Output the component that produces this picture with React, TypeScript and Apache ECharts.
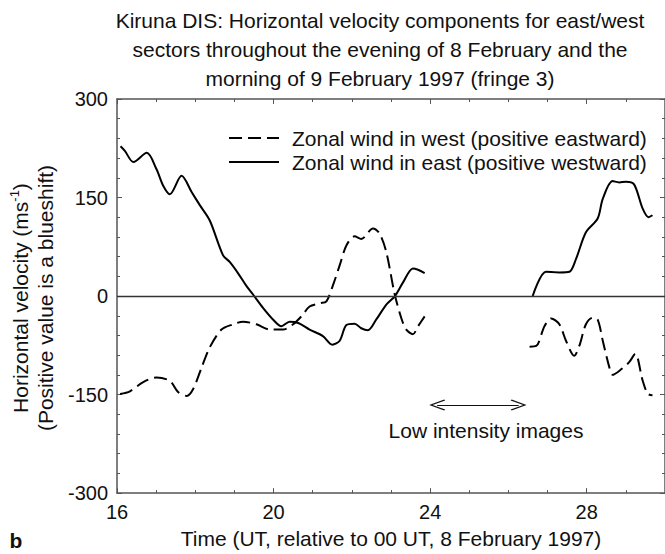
import React, { useEffect, useRef } from 'react';
import * as echarts from 'echarts';

const FONT = "'Liberation Sans', Arial, Helvetica, sans-serif";

// Zonal wind in east (positive westward) — evening segment
const eastEveTime = [16.09, 16.2, 16.42, 16.76, 17.01, 17.18, 17.35, 17.65, 17.91, 18.12, 18.37, 18.71, 18.88, 19.09, 19.31, 19.48, 19.73, 19.99, 20.2, 20.41, 20.63, 20.92, 21.26, 21.5, 21.69, 21.86, 22.07, 22.24, 22.41, 22.62, 22.88, 23.1, 23.3, 23.56, 23.69, 23.86];
const eastEveVel = [228, 221, 204, 218, 193, 168, 155, 183, 158, 138, 115, 62, 52, 35, 15, 2, -18, -36, -46, -39, -41, -51, -61, -74, -68, -44, -42, -49, -52, -36, -13, 0, 20, 42, 40, 35];
// Zonal wind in east — morning segment
const eastMornTime = [26.62, 26.96, 27.3, 27.56, 27.73, 27.98, 28.28, 28.41, 28.66, 28.83, 29.0, 29.21, 29.43, 29.58, 29.68];
const eastMornVel = [0, 37, 36, 37, 57, 97, 118, 148, 175, 173, 174, 170, 133, 120, 123];

// Zonal wind in west (positive eastward) — evening segment
const westEveTime = [16.08, 16.33, 16.67, 17.01, 17.35, 17.56, 17.78, 17.95, 18.16, 18.37, 18.67, 18.97, 19.22, 19.56, 19.9, 20.24, 20.5, 20.71, 20.92, 21.18, 21.35, 21.52, 21.69, 21.86, 22.07, 22.24, 22.54, 22.71, 22.88, 23.09, 23.26, 23.39, 23.56, 23.69, 23.86];
const westEveVel = [-149, -145, -131, -124, -129, -146, -152, -141, -109, -78, -51, -43, -39, -43, -51, -51, -43, -31, -16, -11, -8, 17, 47, 77, 91, 87, 103, 95, 67, 4, -33, -51, -58, -46, -31];
// Zonal wind in west — morning segment
const westMornTime = [26.54, 26.71, 26.92, 27.09, 27.3, 27.47, 27.68, 27.81, 27.98, 28.15, 28.28, 28.41, 28.58, 28.66, 28.83, 29.08, 29.24, 29.43, 29.56, 29.68];
const westMornVel = [-77, -76, -46, -34, -43, -68, -91, -76, -43, -33, -36, -68, -109, -120, -114, -101, -88, -129, -149, -151];

const seriesNames = ['Zonal wind in west (positive eastward)', 'Zonal wind in east (positive westward)'];
const gapTime = 25;

// Low intensity images arrow (data coords of the arrowhead centres)
const arrowFrom = 24.18;
const arrowTo = 26.26;
const arrowLevel = -166;

const titleText = 'Kiruna DIS: Horizontal velocity components for east/west\nsectors throughout the evening of 8 February and the\nmorning of 9 February 1997 (fringe 3)';
const xName = 'Time (UT, relative to 00 UT, 8 February 1997)';

function zip(t: number[], v: number[]) {
  return t.map((x, i) => [x, v[i]]);
}
function joined(t1: number[], v1: number[], t2: number[], v2: number[]) {
  return [...zip(t1, v1), [gapTime, '-'], ...zip(t2, v2)];
}

const axisColor = '#555';
const chevron = 'path://M0,10 L6,0 L12,10 L10.9,10.7 L6,2.3 L1.1,10.7 Z';

export default function App() {
  const ref = useRef<HTMLDivElement>(null);
  useEffect(() => {
    document.body.style.margin = '0';
    const chart = echarts.init(ref.current!, null, { renderer: 'svg' });
    const tickStyle = { color: axisColor, width: 1 };
    const option: any = {
      animation: false,
      backgroundColor: '#fff',
      textStyle: { fontFamily: FONT },
      grid: { left: 117, top: 99, width: 548, height: 398, containLabel: false },
      legend: {
        orient: 'vertical',
        left: 223,
        top: 122,
        itemWidth: 50,
        itemHeight: 14,
        itemGap: 2,
        data: seriesNames,
        itemStyle: { opacity: 0 },
        textStyle: { fontSize: 21, color: '#111', fontFamily: FONT, lineHeight: 22, padding: [0, 0, 0, 8] },
      },
      xAxis: [
        {
          type: 'value', min: 16, max: 30, interval: 4, position: 'bottom',
          axisLine: { show: true, onZero: false, lineStyle: { color: axisColor, width: 1.5 } },
          axisTick: { show: true, inside: true, length: 5, lineStyle: tickStyle },
          minorTick: { show: true, splitNumber: 4, length: 3, lineStyle: tickStyle },
          splitLine: { show: false },
          axisLabel: { fontSize: 20, color: '#111', margin: 9, showMaxLabel: false, fontFamily: FONT },
          name: xName, nameLocation: 'middle', nameGap: 33,
          nameTextStyle: { fontSize: 21, color: '#111', fontFamily: FONT, lineHeight: 22 },
        },
        {
          type: 'value', min: 16, max: 30, interval: 4, position: 'top',
          axisLine: { show: true, onZero: false, lineStyle: { color: axisColor, width: 1.5 } },
          axisTick: { show: true, inside: true, length: 5, lineStyle: tickStyle },
          minorTick: { show: true, splitNumber: 4, length: 3, lineStyle: tickStyle },
          splitLine: { show: false },
          axisLabel: { show: false },
        },
      ],
      yAxis: [
        {
          type: 'value', min: -300, max: 300, interval: 150, position: 'left',
          axisLine: { show: true, onZero: false, lineStyle: { color: axisColor, width: 1.5 } },
          axisTick: { show: true, inside: true, length: 5, lineStyle: tickStyle },
          minorTick: { show: true, splitNumber: 5, length: 3, lineStyle: tickStyle },
          splitLine: { show: false },
          axisLabel: { fontSize: 20, color: '#111', margin: 9, fontFamily: FONT },
        },
        {
          type: 'value', min: -300, max: 300, interval: 150, position: 'right',
          axisLine: { show: true, onZero: false, lineStyle: { color: axisColor, width: 1.5 } },
          axisTick: { show: true, inside: true, length: 5, lineStyle: tickStyle },
          minorTick: { show: true, splitNumber: 5, length: 3, lineStyle: tickStyle },
          splitLine: { show: false },
          axisLabel: { show: false },
        },
      ],
      series: [
        {
          name: seriesNames[0], type: 'line', xAxisIndex: 0, yAxisIndex: 0,
          data: joined(westEveTime, westEveVel, westMornTime, westMornVel),
          symbol: 'none', smooth: 0.3, connectNulls: false,
          lineStyle: { color: '#000', width: 2, type: [13, 6] },
          itemStyle: { color: '#000' },
          markLine: {
            silent: true, symbol: ['none', 'none'], label: { show: false },
            data: [
              { yAxis: 0, lineStyle: { color: '#333', width: 1.3, type: 'solid' } },
              [
                { coord: [arrowFrom, arrowLevel], symbol: chevron, symbolSize: [11, 16], lineStyle: { color: '#111', width: 1.2, type: 'solid' } },
                { coord: [arrowTo, arrowLevel], symbol: chevron, symbolSize: [11, 16] },
              ],
            ],
          },
        },
        {
          name: seriesNames[1], type: 'line', xAxisIndex: 0, yAxisIndex: 0,
          data: joined(eastEveTime, eastEveVel, eastMornTime, eastMornVel),
          symbol: 'none', smooth: 0.3, connectNulls: false,
          lineStyle: { color: '#000', width: 2, type: 'solid' },
          itemStyle: { color: '#000' },
        },
      ],
      graphic: [
        {
          type: 'text', x: 380, y: 6,
          style: { text: titleText, align: 'center', textAlign: 'center', verticalAlign: 'top', textVerticalAlign: 'top', fontSize: 21, fontFamily: FONT, lineHeight: 29, fill: '#111' },
        },
        {
          type: 'text', x: 33, y: 298, rotation: Math.PI / 2,
          style: {
            text: '{a|Horizontal velocity (ms}{s|-1}{a|)}\n{a|(Positive value is a blueshift)}',
            align: 'center', textAlign: 'center', verticalAlign: 'middle', textVerticalAlign: 'middle',
            fontSize: 21, fontFamily: FONT, fill: '#111', lineHeight: 25,
            rich: {
              a: { fontSize: 21, fontFamily: FONT, fill: '#111', lineHeight: 25 },
              s: { fontSize: 13, fontFamily: FONT, fill: '#111', lineHeight: 25, verticalAlign: 'top', padding: [0, 0, 6, 0] },
            },
          },
        },
        {
          type: 'text', x: 486, y: 430,
          style: { text: 'Low intensity images', align: 'center', textAlign: 'center', verticalAlign: 'middle', textVerticalAlign: 'middle', fontSize: 21, fontFamily: FONT, fill: '#111' },
        },
        {
          type: 'text', x: 16, y: 540,
          style: { text: 'b', align: 'center', textAlign: 'center', verticalAlign: 'middle', textVerticalAlign: 'middle', fontSize: 21, fontWeight: 'bold', fontFamily: FONT, fill: '#111' },
        },
      ],
    };
    chart.setOption(option);
    return () => chart.dispose();
  }, []);
  return <div ref={ref} style={{ width: 665, height: 554, position: 'absolute', left: 0, top: 0 }} />;
}
